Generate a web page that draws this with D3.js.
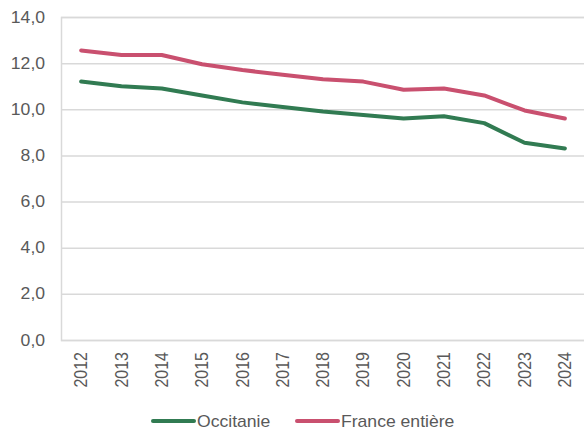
<!DOCTYPE html>
<html>
<head>
<meta charset="utf-8">
<script src="https://cdn.jsdelivr.net/npm/d3@7"></script>
<style>
    body { margin: 0; background: #fff; }
    svg { display: block; font-family: "Liberation Sans", Arial, sans-serif; }
</style>
</head>
<body>
<svg id="chart" width="584" height="431"></svg>
<script>
const years = ["2012", "2013", "2014", "2015", "2016", "2017", "2018", "2019", "2020", "2021", "2022", "2023", "2024"];
const occitanie = [11.2, 11.0, 10.9, 10.6, 10.3, 10.1, 9.9, 9.75, 9.6, 9.7, 9.4, 8.55, 8.3];
const france = [12.55, 12.35, 12.35, 11.95, 11.7, 11.5, 11.3, 11.2, 10.85, 10.9, 10.6, 9.95, 9.6];
const yTicks = [0, 2, 4, 6, 8, 10, 12, 14];

const series = [
    { name: "Occitanie", values: occitanie, color: "#317b52" },
    { name: "France entière", values: france, color: "#c9506f" }
];

const svg = d3.select("#chart");
const margin = { top: 17, right: -1, bottom: 91, left: 61 };
const width = +svg.attr("width");
const height = +svg.attr("height");
const textColor = "#595959";
const gridColor = "#d9d9d9";

const x = d3.scaleBand()
    .domain(years)
    .range([margin.left, width - margin.right]);

const y = d3.scaleLinear()
    .domain([0, 14])
    .range([height - margin.bottom, margin.top]);

// y axis with gridlines
const yAxis = svg.append("g")
    .attr("transform", `translate(${margin.left},0)`)
    .call(d3.axisLeft(y)
        .tickValues(yTicks)
        .tickSize(-(width - margin.right - margin.left))
        .tickPadding(14.5)
        .tickFormat(d => d.toFixed(1).replace(".", ",")));
yAxis.select(".domain").attr("stroke", gridColor).attr("stroke-width", 1.5);
yAxis.selectAll(".tick line").attr("stroke", gridColor).attr("stroke-width", 1.5);
yAxis.selectAll(".tick text")
    .attr("fill", textColor)
    .attr("font-size", 16)
    .attr("transform", "scale(1.1,1)");

// x axis labels
const xAxis = svg.append("g")
    .attr("transform", `translate(0,${y(0)})`)
    .call(d3.axisBottom(x).tickSize(0).tickPadding(0));
xAxis.select(".domain").remove();
xAxis.selectAll(".tick text")
    .attr("fill", textColor)
    .attr("font-size", 16)
    .attr("y", 0)
    .attr("dy", "0.35em")
    .attr("text-anchor", "end")
    .attr("transform", "translate(0,12) scale(1.1,1) rotate(-90)");

// lines
const line = d3.line()
    .x((d, i) => x(years[i]) + x.bandwidth() / 2)
    .y(d => y(d));

for (const s of series) {
    svg.append("path")
        .datum(s.values)
        .attr("fill", "none")
        .attr("stroke", s.color)
        .attr("stroke-width", 4)
        .attr("stroke-linecap", "round")
        .attr("stroke-linejoin", "round")
        .attr("d", line);
}

// legend
const legendX = [153, 297];
const legend = svg.append("g").attr("transform", "translate(0,421)");
series.forEach((s, i) => {
    const g = legend.append("g").attr("transform", `translate(${legendX[i]},0)`);
    g.append("line")
        .attr("x1", 0).attr("x2", 41)
        .attr("stroke", s.color)
        .attr("stroke-width", 4)
        .attr("stroke-linecap", "round");
    g.append("text")
        .attr("transform", "translate(44,0) scale(1.1,1)")
        .attr("dy", "0.35em")
        .attr("font-size", 16)
        .attr("fill", textColor)
        .text(s.name);
});
</script>
</body>
</html>
